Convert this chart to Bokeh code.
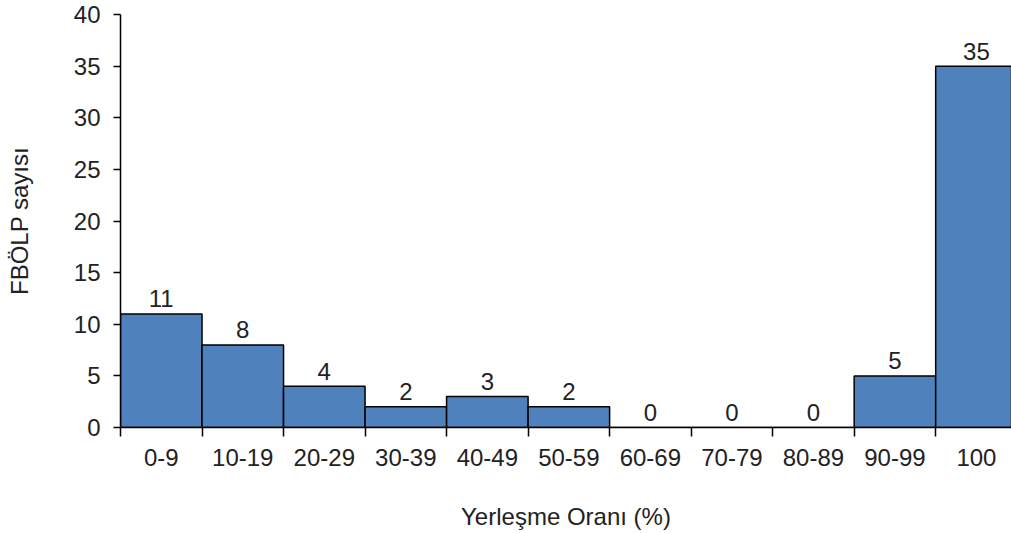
from bokeh.plotting import figure
from bokeh.models import FixedTicker, Range1d, ColumnDataSource
from bokeh.embed import file_html
from bokeh.resources import INLINE
from bokeh.core.properties import value

categories = ["0-9", "10-19", "20-29", "30-39", "40-49", "50-59",
              "60-69", "70-79", "80-89", "90-99", "100"]
counts = [11, 8, 4, 2, 3, 2, 0, 0, 0, 5, 35]
y_ticks = [0, 5, 10, 15, 20, 25, 30, 35, 40]

FONT = "Liberation Sans"
FS = "24px"

n = len(categories)
centers = [i + 0.5 for i in range(n)]
bounds = [float(i) for i in range(n + 1)]

src = ColumnDataSource(dict(x=centers, top=counts, lbl=[str(c) for c in counts]))

p = figure(width=1011, height=532, output_backend="svg", toolbar_location=None,
           x_range=Range1d(0, 10.93), y_range=Range1d(0, 40),
           min_border_left=120, min_border_right=0, min_border_top=14,
           min_border_bottom=104)
p.outline_line_color = None
p.grid.visible = False
p.background_fill_color = "white"

p.vbar(x="x", top="top", bottom=0, width=1.0, source=src,
       fill_color="#4F81BD", line_color="black", line_width=1.5)

p.text(x="x", y="top", text="lbl", source=src, text_align="center",
       text_baseline="alphabetic", y_offset=-15,
       text_font=value(FONT), text_font_size=FS, text_color="#222222")

# x axis
xa = p.xaxis[0]
xa.ticker = FixedTicker(ticks=centers, minor_ticks=bounds)
xa.major_label_overrides = {c: cat for c, cat in zip(centers, categories)}
xa.major_tick_out = 0
xa.major_tick_in = 0
xa.minor_tick_out = 9
xa.minor_tick_in = 0
xa.minor_tick_line_color = "black"
xa.minor_tick_line_width = 1.5
xa.axis_line_color = "black"
xa.axis_line_width = 1.5
xa.major_label_standoff = 12
xa.major_label_text_font = FONT
xa.major_label_text_font_size = FS
xa.major_label_text_color = "#222222"
xa.axis_label = "Yerleşme Oranı (%)"
xa.axis_label_standoff = 34
xa.axis_label_text_font = FONT
xa.axis_label_text_font_size = FS
xa.axis_label_text_font_style = "normal"
xa.axis_label_text_color = "#222222"

# y axis
ya = p.yaxis[0]
ya.ticker = FixedTicker(ticks=y_ticks, minor_ticks=[])
ya.major_tick_out = 7
ya.major_tick_in = 0
ya.major_tick_line_color = "black"
ya.major_tick_line_width = 1.5
ya.axis_line_color = "black"
ya.axis_line_width = 1.5
ya.major_label_standoff = 13
ya.major_label_text_font = FONT
ya.major_label_text_font_size = FS
ya.major_label_text_color = "#222222"
ya.axis_label = "FBÖLP sayısı"
ya.axis_label_standoff = 38
ya.axis_label_text_font = FONT
ya.axis_label_text_font_size = FS
ya.axis_label_text_font_style = "normal"
ya.axis_label_text_color = "#222222"

open("out.html", "w").write(file_html(p, INLINE))
